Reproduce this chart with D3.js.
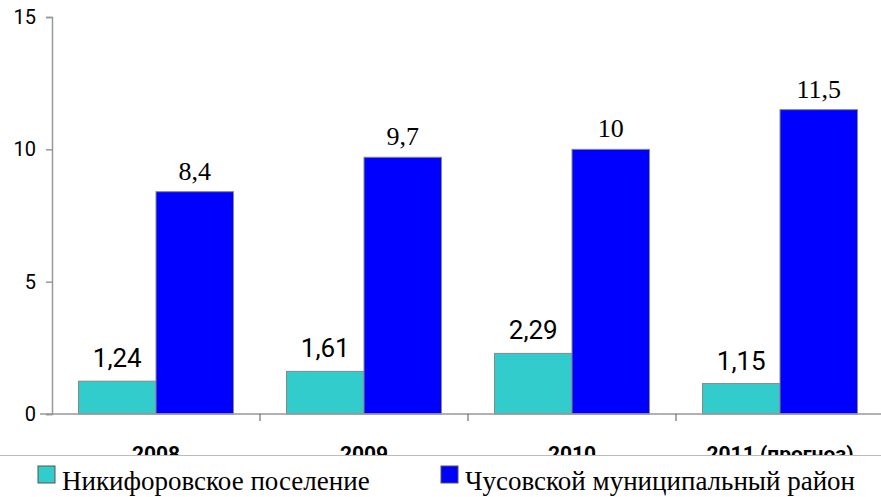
<!DOCTYPE html>
<html><head><meta charset="utf-8">
<script src="https://cdn.jsdelivr.net/npm/d3@7"></script>
<style>body{margin:0;background:#fff}svg{display:block}
.serif{font-family:"Liberation Serif","Times New Roman","DejaVu Serif",serif}
.sans{font-family:Roboto,"Liberation Sans",sans-serif}
</style>
</head><body>
<svg id="c" width="881" height="497"></svg>
<script>
const categories = ["2008", "2009", "2010", "2011 (прогноз)"];
const seriesNames = ["Никифоровское поселение", "Чусовской муниципальный район"];
const nikiforovskoe = [1.24, 1.61, 2.29, 1.15];
const chusovskoy = [8.4, 9.7, 10, 11.5];
const yTicks = [0, 5, 10, 15];
const colors = ["#33CCCC", "#0000FF"];

(function () {
const svg = d3.select("#c");
const mLeft = 52, mRight = 884, mTop = 17, mBottom = 414;
const x = d3.scaleBand().domain(categories).range([mLeft, mRight]).paddingInner(0).paddingOuter(0);
const x1 = d3.scaleBand().domain([0, 1]).range([0, x.bandwidth()]).paddingInner(0).paddingOuter(0.342);
const y = d3.scaleLinear().domain([0, 15]).range([mBottom, mTop]);

// y axis
const ya = svg.append("g").attr("transform", `translate(${mLeft},0)`)
  .call(d3.axisLeft(y).tickValues(yTicks).tickSize(6).tickPadding(10).tickFormat(d3.format("d")));
ya.attr("font-family", null).attr("font-size", null);
ya.select(".domain").attr("stroke", "#999").attr("stroke-width", 1.5);
ya.selectAll(".tick line").attr("stroke", "#999").attr("stroke-width", 1.5);
ya.selectAll(".tick text").attr("class", "sans").attr("font-size", 20).attr("fill", "#000");

const series = [nikiforovskoe, chusovskoy];
const g = svg.append("g");
series.forEach((vals, si) => {
  g.selectAll(null).data(vals).enter().append("rect")
    .attr("x", (d, i) => x(categories[i]) + x1(si))
    .attr("y", d => y(d))
    .attr("width", x1.bandwidth())
    .attr("height", d => y(0) - y(d))
    .attr("fill", colors[si])
    .attr("stroke", "#888").attr("stroke-width", 1);
  g.selectAll(null).data(vals).enter().append("text")
    .attr("x", (d, i) => x(categories[i]) + x1(si) + x1.bandwidth() / 2)
    .attr("y", d => y(d) - (si === 0 ? 14 : 12))
    .attr("text-anchor", "middle")
    .attr("class", si === 0 ? "sans" : "serif")
    .attr("font-size", 26)
    .attr("fill", "#000")
    .text(d => String(d).replace(".", ","));
});

// x axis
const xa = svg.append("g").attr("transform", `translate(0,${mBottom})`)
  .call(d3.axisBottom(x).tickSize(0).tickPadding(28));
xa.attr("font-family", null).attr("font-size", null);
xa.select(".domain").remove();
svg.append("line").attr("x1", mLeft - 12).attr("x2", 881).attr("y1", mBottom).attr("y2", mBottom)
  .attr("stroke", "#999").attr("stroke-width", 1.5);
xa.selectAll(".tick text").attr("class", "sans").attr("font-weight", "bold")
  .attr("font-size", 21).attr("fill", "#000").attr("dy", "0.9em");
svg.selectAll(null).data(categories.slice(1)).enter().append("line")
  .attr("x1", d => x(d)).attr("x2", d => x(d))
  .attr("y1", mBottom).attr("y2", mBottom + 7)
  .attr("stroke", "#555").attr("stroke-width", 1);

// legend
const lg = svg.append("g");
lg.append("rect").attr("x", 0).attr("y", 455).attr("width", 881).attr("height", 42)
  .attr("fill", "#fff");
lg.append("line").attr("x1", 0).attr("x2", 881).attr("y1", 455.5).attr("y2", 455.5)
  .attr("stroke", "#bbb").attr("stroke-width", 1);
const legX = [38, 441];
seriesNames.forEach((n, i) => {
  lg.append("rect").attr("x", legX[i]).attr("y", 466).attr("width", 17).attr("height", 17)
    .attr("fill", colors[i]).attr("stroke", "#555").attr("stroke-width", 1);
  lg.append("text").attr("x", legX[i] + 24).attr("y", 490)
    .attr("class", "serif").attr("font-size", 27).attr("fill", "#000")
    .text(n);
});
})();
</script>
</body></html>
